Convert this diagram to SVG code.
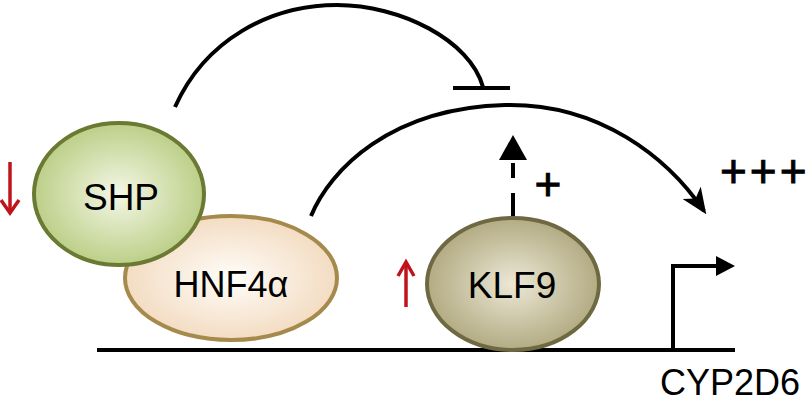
<svg xmlns="http://www.w3.org/2000/svg" width="810" height="405" viewBox="0 0 810 405">
<defs>
<radialGradient id="gShp" cx="50%" cy="50%" r="50%">
<stop offset="0" stop-color="#f4f7e6"/>
<stop offset="1" stop-color="#bccf88"/>
</radialGradient>
<radialGradient id="gHnf" cx="50%" cy="50%" r="50%">
<stop offset="0" stop-color="#fffdf9"/>
<stop offset="1" stop-color="#f3dcc2"/>
</radialGradient>
<radialGradient id="gKlf" cx="50%" cy="50%" r="50%">
<stop offset="0" stop-color="#ece8d6"/>
<stop offset="1" stop-color="#b3ab83"/>
</radialGradient>
<marker id="curveHead" viewBox="0 0 26 22" refX="22" refY="11" markerWidth="26" markerHeight="22" orient="auto" markerUnits="userSpaceOnUse">
<path d="M0,0 L26,11 L0,22 L7,11 z" fill="#000"/>
</marker>
</defs>
<style>
.ln{fill:none;stroke:#000;stroke-width:4}
.red{fill:none;stroke:#c0141c;stroke-width:3.5}
.lbl{font-family:"Liberation Sans",Arial,sans-serif;fill:#000}
.plus{font-family:"Liberation Sans",Arial,sans-serif;fill:#000;stroke:#000;stroke-width:0.9}
</style>
<rect width="810" height="405" fill="#fff"/>

<g id="connectors">
<path class="ln" d="M175,107 C205,40 270,5 337,5 C400,5 470,40 483,87"/>
<line class="ln" x1="453" y1="88" x2="510" y2="88"/>
<path class="ln" d="M311,216 C330,170 390,108 505,105 C600,103 668,158 704,211" marker-end="url(#curveHead)"/>
<line class="ln" x1="513" y1="218" x2="513" y2="160" stroke-dasharray="25,15,15,15"/>
<polygon points="513,135 527,160 499,160" fill="#000"/>
<polyline class="ln" points="673,350 673,266 720,266"/>
<polygon points="735,266 716,256 716,276" fill="#000"/>
</g>

<g id="dna">
<line class="ln" x1="97" y1="350" x2="735" y2="350"/>
</g>

<g id="hnf4a">
<ellipse cx="231" cy="278" rx="106" ry="62" fill="url(#gHnf)" stroke="#a58a4c" stroke-width="4"/>
<text class="lbl" x="231" y="297" font-size="36" text-anchor="middle">HNF4α</text>
</g>

<g id="shp">
<ellipse cx="119" cy="194" rx="85" ry="71" fill="url(#gShp)" stroke="#6b7a32" stroke-width="4"/>
<text class="lbl" x="121" y="210" font-size="37" text-anchor="middle">SHP</text>
</g>

<g id="klf9">
<ellipse cx="513" cy="284" rx="86" ry="66" fill="url(#gKlf)" stroke="#6e6942" stroke-width="4"/>
<text class="lbl" x="512" y="298" font-size="37" text-anchor="middle">KLF9</text>
</g>

<g id="shp-down">
<line class="red" x1="10" y1="162" x2="10" y2="212"/>
<polyline class="red" points="1,200 10,213 19,200"/>
</g>
<g id="klf9-up">
<line class="red" x1="406" y1="307" x2="406" y2="263"/>
<polyline class="red" points="398,276 406,262 414,276"/>
</g>

<text class="plus" x="548" y="200" font-size="46" text-anchor="middle">+</text>
<text class="plus" x="720" y="187" font-size="46" letter-spacing="3">+++</text>
<text class="lbl" x="660" y="395" font-size="36">CYP2D6</text>
</svg>
